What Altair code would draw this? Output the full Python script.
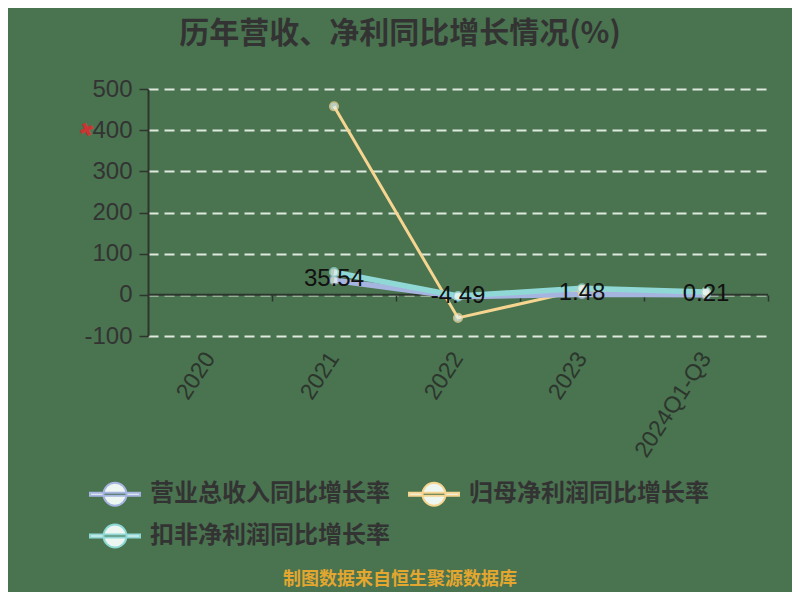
import altair as alt
import pandas as pd

categories = ["2020", "2021", "2022", "2023", "2024Q1-Q3"]
series_names = ["营业总收入同比增长率", "归母净利润同比增长率", "扣非净利润同比增长率"]
revenue_growth = [None, 35.54, -4.49, 1.48, 0.21]
net_profit_growth = [None, 458.0, -56.0, 12.0, 6.0]
deducted_growth = [None, 55.0, -3.0, 16.0, 7.0]
label_texts = ["", "35.54", "-4.49", "1.48", "0.21"]
colors = ["#a6b4e0", "#f5d590", "#8fd8d6"]

rows = []
for name, vals in zip(series_names, [revenue_growth, net_profit_growth, deducted_growth]):
    for c, v in zip(categories, vals):
        if v is not None:
            rows.append({"cat": c, "series": name, "value": v})
df = pd.DataFrame(rows)
lab_df = pd.DataFrame({"cat": categories, "value": revenue_growth, "label": label_texts}).dropna()

BG = "#4a7350"
DARK = "#2c362d"
CJK = "Noto Sans CJK SC"
LAT = "Liberation Sans"

xenc = alt.X("cat:N", sort=categories,
             scale=alt.Scale(type="band", domain=categories, paddingInner=0, paddingOuter=0),
             axis=alt.Axis(title=None, labelAngle=-57, labelFont=LAT, labelFontSize=23,
                           labelColor=DARK, domain=False, ticks=True, tickColor=DARK, tickWidth=1.5,
                           tickSize=6, bandPosition=1, offset=-41, labelPadding=53, grid=False))
yenc = alt.Y("value:Q", scale=alt.Scale(domain=[-100, 500], nice=False),
             axis=alt.Axis(title=None, values=[-100, 0, 100, 200, 300, 400, 500],
                           labelExpr="'' + datum.value",
                           labelFont=LAT, labelFontSize=24, labelColor="#333333",
                           domainColor=DARK, domainWidth=2, tickColor=DARK, tickSize=9, tickWidth=1.5,
                           labelPadding=7, gridColor="#dfe9de", gridDash=[10, 6], gridWidth=2))
color_scale = alt.Scale(domain=series_names, range=colors)

legend_path = ("M-1,-0.06H1V0.06H-1Z "
               "M-0.46,0A0.46,0.46 0 1,0 0.46,0A0.46,0.46 0 1,0 -0.46,0Z")

zero = alt.Chart(pd.DataFrame({"z": [0]})).mark_rule(color=DARK, strokeWidth=2).encode(y="z:Q")


def line_layer(name, width, legend):
    return alt.Chart(df[df["series"] == name]).mark_line(strokeWidth=width).encode(
        x=xenc, y=yenc,
        stroke=alt.Stroke("series:N", scale=color_scale, sort=series_names, legend=legend),
    )


legend = alt.Legend(title=None, orient="none", legendX=-59, legendY=379,
                    direction="horizontal", columns=2, symbolType=legend_path,
                    symbolSize=2500, symbolFillColor="#eef6f2", symbolStrokeWidth=2,
                    labelFont=CJK, labelFontSize=24, labelFontWeight="bold", labelColor="#333333",
                    labelLimit=0, columnPadding=15, rowPadding=0, labelOffset=9)

l_net = line_layer(series_names[1], 3, legend)
l_rev = line_layer(series_names[0], 5.5, None)
l_ded = line_layer(series_names[2], 5.5, None)

points = alt.Chart(df).mark_point(filled=True, size=75, fill="#eaf4f1", strokeWidth=1.5).encode(
    x=xenc, y=yenc,
    stroke=alt.Stroke("series:N", scale=color_scale, sort=series_names, legend=None),
)

labels = alt.Chart(lab_df).mark_text(font=LAT, fontSize=24, color="#111111",
                                      dy=-1).encode(x=xenc, y=yenc, text="label:N")

footer = alt.Chart(pd.DataFrame({"t": ["制图数据来自恒生聚源数据库"]})).mark_text(
    font=CJK, fontSize=18, fontWeight="bold", color="#e3a72f").encode(
    x=alt.value(252), y=alt.value(491), text="t:N")

marker = alt.Chart(pd.DataFrame({"t": ["✖"]})).mark_text(
    font="DejaVu Sans", fontSize=18, color="#cc3333", angle=20).encode(
    x=alt.value(-62), y=alt.value(42), text="t:N")

chart = alt.layer(zero, l_net, l_rev, l_ded, points, labels, footer, marker).properties(
    width=620, height=247,
    title=alt.TitleParams("历年营收、净利同比增长情况(%)", font=CJK, fontSize=30, fontWeight="bold",
                          color="#333333", anchor="middle", dx=-58, offset=28),
    background=BG,
    autosize=alt.AutoSizeParams(type="none"),
    padding={"left": 140, "top": 81, "right": 24, "bottom": 256},
).configure_view(stroke=None).resolve_scale(stroke="shared")

chart.save("out.html", embed_options={"renderer": "svg", "actions": False})
